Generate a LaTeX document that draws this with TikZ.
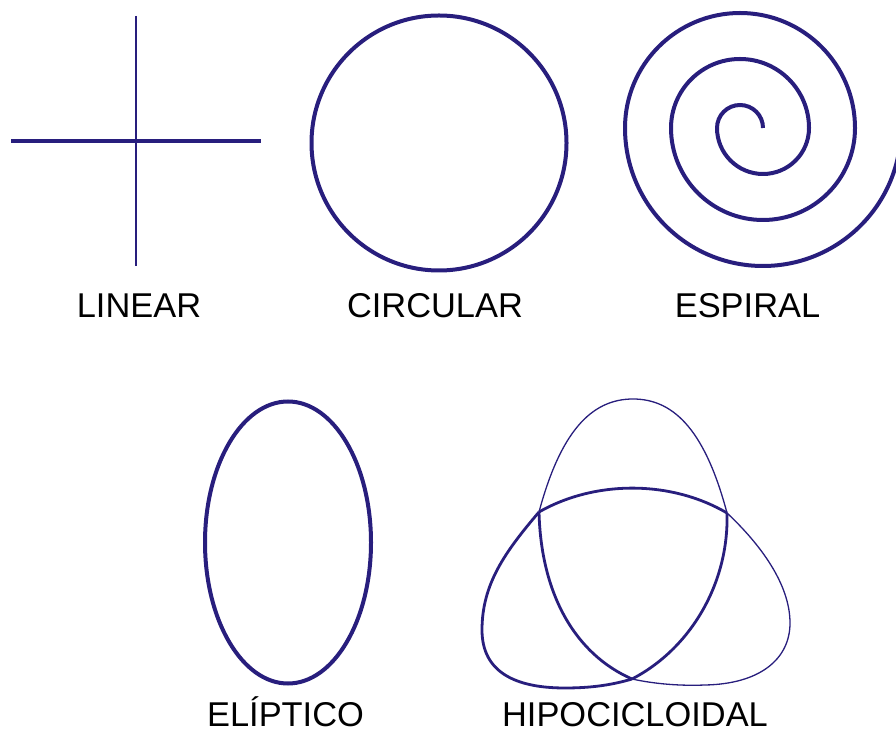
\documentclass[tikz,border=0pt]{standalone}
\usepackage{fontspec}
\setmainfont{Liberation Sans}
\usetikzlibrary{positioning}
\definecolor{curveblue}{RGB}{40,30,125}
\tikzset{
  curve/.style={draw=curveblue, line width=4pt},
  midcurve/.style={draw=curveblue, line width=2.8pt},
  thincurve/.style={draw=curveblue, line width=1.3pt},
  caption/.style={anchor=base, inner sep=0pt,
    font=\fontsize{34.4}{40}\selectfont},
}

\begin{document}
\begin{tikzpicture}[x=1pt, y=1pt]
  \useasboundingbox (0,0) rectangle (896,734);
  \clip (0,0) rectangle (896,734);

  % linear
  \draw[curve] (11,593) -- (261,593);
  \draw[thincurve] (136,718) -- (136,468);

  % circular
  \draw[curve] (439,591) circle[radius=127.5];

  % espiral
  \draw[curve] (763,606)
    arc[start angle=0, end angle=180, radius=23]
    arc[start angle=180, end angle=360, radius=46]
    arc[start angle=0, end angle=180, radius=69]
    arc[start angle=180, end angle=360, radius=92]
    arc[start angle=0, end angle=180, radius=115]
    arc[start angle=180, end angle=360, radius=138];

  % eliptico
  \draw[curve] (288,191.5) ellipse[x radius=83, y radius=141];

  % hipocicloidal
  \coordinate (hl) at (539,222);
  \coordinate (hr) at (727,221);
  \coordinate (hb) at (632,55);
  \draw[thincurve] (hl) .. controls (560,300) and (590,335) .. (633,335)
    .. controls (676,335) and (706,300) .. (hr);
  \draw[midcurve] (hl) .. controls (595,254) and (671,254) .. (hr);
  \draw[midcurve] (hl) .. controls (541,140) and (575,80) .. (hb);
  \draw[midcurve] (hr) .. controls (729,150) and (690,85) .. (hb);
  \draw[midcurve] (hl) .. controls (505,182) and (482,150) .. (482,104)
    .. controls (482,62) and (515,46) .. (565,46)
    .. controls (595,46) and (615,50) .. (hb);
  \draw[thincurve] (hb) .. controls (655,50) and (680,48) .. (705,49)
    .. controls (760,50) and (790,75) .. (790,111)
    .. controls (790,150) and (760,190) .. (hr);

  \node[caption] (linear) at (139,416.5) {LINEAR};
  \node[caption] (circular) at (435,416.5) {CIRCULAR};
  \node[caption] (espiral) at (747.5,416.5) {ESPIRAL};
  \node[caption] (eliptico) at (285.5,8) {ELÍPTICO};
  \node[caption] (hipo) at (635,8) {HIPOCICLOIDAL};
\end{tikzpicture}
\end{document}
